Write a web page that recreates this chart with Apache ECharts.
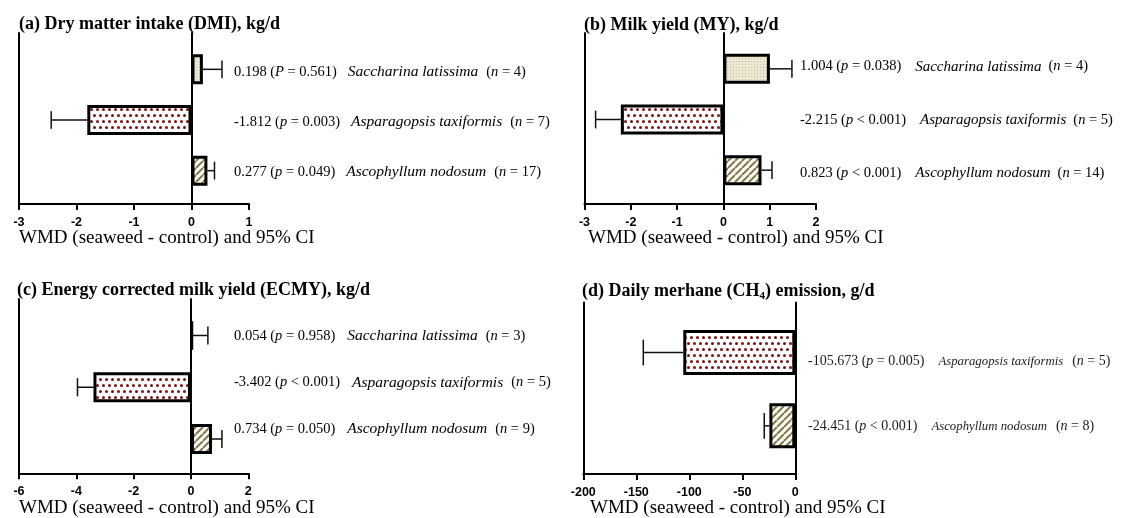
<!DOCTYPE html>
<html>
<head>
<meta charset="utf-8">
<script src="https://cdn.jsdelivr.net/npm/echarts@6/dist/echarts.min.js"></script>
<style>
  html, body { margin: 0; padding: 0; background: #fff; }
  #chart { width: 1126px; height: 518px; }
</style>
</head>
<body>
<div id="chart"></div>
<script>
// species per panel
const speciesThree = ['Saccharina latissima', 'Asparagopsis taxiformis', 'Ascophyllum nodosum'];
const speciesCh4 = ['Asparagopsis taxiformis', 'Ascophyllum nodosum'];

// (a) DMI, kg/d
const dmiWmd = [0.198, -1.812, 0.277];
const dmiCi = [0.53, -2.44, 0.40];
const dmiPSym = ['P', 'p', 'p'];
const dmiP = ['= 0.561', '= 0.003', '= 0.049'];
const dmiN = [4, 7, 17];
const dmiTicks = [-3, 1, 1];

// (b) MY, kg/d
const myWmd = [1.004, -2.215, 0.823];
const myCi = [1.48, -2.76, 1.05];
const myPSym = ['p', 'p', 'p'];
const myP = ['= 0.038', '< 0.001', '< 0.001'];
const myN = [4, 5, 14];
const myTicks = [-3, 2, 1];

// (c) ECMY, kg/d
const ecmyWmd = [0.054, -3.402, 0.734];
const ecmyCi = [0.59, -3.96, 1.08];
const ecmyPSym = ['p', 'p', 'p'];
const ecmyP = ['= 0.958', '< 0.001', '= 0.050'];
const ecmyN = [3, 5, 9];
const ecmyTicks = [-6, 2, 2];

// (d) CH4, g/d
const ch4Wmd = [-105.673, -24.451];
const ch4Ci = [-143.4, -29.3];
const ch4PSym = ['p', 'p'];
const ch4P = ['= 0.005', '< 0.001'];
const ch4N = [5, 8];
const ch4Ticks = [-200, 0, 50];

const axisTitle = 'WMD (seaweed - control) and 95% CI';

function makePattern(kind) {
  const c = document.createElement('canvas');
  const ctx = c.getContext('2d');
  if (kind === 'dots') {
    c.width = 6; c.height = 12;
    ctx.fillStyle = '#fff';
    ctx.fillRect(0, 0, 6, 12);
    ctx.fillStyle = '#7a1212';
    [[1.5, 1.5], [4.5, 7.5]].forEach(([x, y]) => {
      ctx.beginPath();
      ctx.arc(x, y, 1.5, 0, Math.PI * 2);
      ctx.fill();
    });
  } else if (kind === 'stripes') {
    c.width = 7; c.height = 7;
    ctx.fillStyle = '#fff';
    ctx.fillRect(0, 0, 7, 7);
    ctx.strokeStyle = '#877a48';
    ctx.lineWidth = 2.1;
    ctx.beginPath();
    for (let k = -7; k <= 7; k += 7) {
      ctx.moveTo(k, 7);
      ctx.lineTo(k + 7, 0);
    }
    ctx.stroke();
  } else {
    c.width = 3; c.height = 3;
    ctx.fillStyle = '#ebe7d3';
    ctx.fillRect(0, 0, 3, 3);
    ctx.fillStyle = '#c9c3a6';
    ctx.fillRect(1, 1, 1, 1);
  }
  return { image: c, repeat: 'repeat' };
}

const fills = {
  'Saccharina latissima': makePattern('plain'),
  'Asparagopsis taxiformis': makePattern('dots'),
  'Ascophyllum nodosum': makePattern('stripes')
};

const panels = [
  {
    title: '{b|(a) Dry matter intake (DMI), kg/d}', titlePos: [19, 13], namePos: [19, 227],
    species: speciesThree, wmd: dmiWmd, ci: dmiCi, pSym: dmiPSym, p: dmiP, n: dmiN, ticks: dmiTicks,
    frame: { left: 19, top: 33, width: 230, height: 171 },
    bars: { top: 44, height: 152 }, barWidth: 30,
    labels: { x: 234, top: 46.7, height: 150 }, fs: 14.5, sfs: 15.5, gap1: 11, gap2: 8
  },
  {
    title: '{b|(b) Milk yield (MY), kg/d}', titlePos: [584, 14], namePos: [588, 227],
    species: speciesThree, wmd: myWmd, ci: myCi, pSym: myPSym, p: myP, n: myN, ticks: myTicks,
    frame: { left: 584.5, top: 33, width: 231.5, height: 171 },
    bars: { top: 43.5, height: 152 }, barWidth: 30,
    labels: { x: 800, top: 40, height: 160 }, fs: 14.5, sfs: 15, gap1: 14, gap2: 7
  },
  {
    title: '{b|(c) Energy corrected milk yield (ECMY), kg/d}', titlePos: [17, 279], namePos: [19, 497],
    species: speciesThree, wmd: ecmyWmd, ci: ecmyCi, pSym: ecmyPSym, p: ecmyP, n: ecmyN, ticks: ecmyTicks,
    frame: { left: 19, top: 299, width: 229.3, height: 174.3 },
    bars: { top: 309.6, height: 155.3 }, barWidth: 30,
    labels: { x: 234, top: 312.8, height: 139.5 }, fs: 14.5, sfs: 15.5, gap1: 12, gap2: 8
  },
  {
    title: '{b|(d) Daily merhane (CH}{sub|4}{b|) emission, g/d}', titlePos: [582, 280], namePos: [590, 497],
    species: speciesCh4, wmd: ch4Wmd, ci: ch4Ci, pSym: ch4PSym, p: ch4P, n: ch4N, ticks: ch4Ticks,
    frame: { left: 583.3, top: 302.5, width: 212, height: 171.5 },
    bars: { top: 315.9, height: 146.6 }, barWidth: 45,
    labels: { x: 808, top: 329.2, height: 130 }, fs: 14, sfs: 12.8, gap1: 14, gap2: 9
  }
];

const serif = 'Liberation Serif';
const grids = [], xAxes = [], yAxes = [], series = [], titles = [];

panels.forEach((pn) => {
  // frame grid: visible axes
  const fg = grids.length;
  grids.push(Object.assign({ outerBoundsMode: 'none' }, pn.frame));
  xAxes.push({
    gridIndex: fg, type: 'value', min: pn.ticks[0], max: pn.ticks[1], interval: pn.ticks[2],
    axisLine: { show: true, onZero: false, lineStyle: { color: '#000', width: 2 } },
    axisTick: { show: true, length: 6, lineStyle: { color: '#000', width: 2 } },
    axisLabel: {
      margin: 12, showMinLabel: true, showMaxLabel: true,
      fontFamily: 'Liberation Sans', fontWeight: 'bold', fontSize: 12.5, color: '#000'
    },
    splitLine: { show: false }
  });
  yAxes.push({
    gridIndex: fg, type: 'value', min: 0, max: 1, position: 'left',
    axisLine: { show: true, onZero: true, lineStyle: { color: '#000', width: 2 } },
    axisTick: { show: false }, axisLabel: { show: false }, splitLine: { show: false }
  });
  yAxes.push({
    gridIndex: fg, type: 'value', min: 0, max: 1, position: 'left',
    axisLine: { show: true, onZero: false, lineStyle: { color: '#000', width: 2 } },
    axisTick: { show: false }, axisLabel: { show: false }, splitLine: { show: false }
  });

  // bar grid
  const bg = grids.length;
  grids.push({ outerBoundsMode: 'none', left: pn.frame.left, width: pn.frame.width, top: pn.bars.top, height: pn.bars.height });
  xAxes.push({ gridIndex: bg, type: 'value', min: pn.ticks[0], max: pn.ticks[1], show: false });
  const bx = xAxes.length - 1;
  yAxes.push({ gridIndex: bg, type: 'category', data: pn.species, inverse: true, show: false });
  const by = yAxes.length - 1;

  series.push({
    type: 'bar', xAxisIndex: bx, yAxisIndex: by, barWidth: pn.barWidth, z: 3,
    data: pn.wmd.map((v, i) => ({
      value: v,
      itemStyle: { color: fills[pn.species[i]], borderColor: '#000', borderWidth: 3 }
    })),
    emphasis: { disabled: true }, animation: false
  });

  series.push({
    type: 'custom', xAxisIndex: bx, yAxisIndex: by, z: 2,
    data: pn.wmd.map((v, i) => [i, v, pn.ci[i]]),
    encode: { x: [1, 2], y: 0 },
    renderItem: (params, api) => {
      const s = api.coord([api.value(1), api.value(0)]);
      const e = api.coord([api.value(2), api.value(0)]);
      const half = api.size([0, 1])[1] * 0.175;
      const st = { stroke: '#111', lineWidth: 1.5 };
      return {
        type: 'group',
        children: [
          { type: 'line', shape: { x1: s[0], y1: s[1], x2: e[0], y2: e[1] }, style: st },
          { type: 'line', shape: { x1: e[0], y1: e[1] - half, x2: e[0], y2: e[1] + half }, style: st }
        ]
      };
    },
    animation: false
  });

  // label grid: text column right of each panel
  const lg = grids.length;
  grids.push({ outerBoundsMode: 'none', left: pn.labels.x - 10, width: 10, top: pn.labels.top, height: pn.labels.height });
  xAxes.push({ gridIndex: lg, type: 'value', min: 0, max: 1, show: false });
  const txtColor = pn.species.length === 2 ? '#1c1c1c' : '#000';
  yAxes.push({
    gridIndex: lg, type: 'category', data: pn.species, inverse: true, position: 'right',
    axisLine: { show: false }, axisTick: { show: false }, splitLine: { show: false },
    axisLabel: {
      margin: 0, interval: 0,
      formatter: (val, i) =>
        '{r|' + pn.wmd[i].toFixed(3) + ' (}{i|' + pn.pSym[i] + '}{r| ' + pn.p[i] + ')}' +
        '{s|' + val + '}{r|(}{i|n}{r| = ' + pn.n[i] + ')}',
      rich: {
        r: { fontFamily: serif, fontSize: pn.fs, color: txtColor },
        i: { fontFamily: serif, fontSize: pn.fs, fontStyle: 'italic', color: txtColor },
        s: { fontFamily: serif, fontSize: pn.sfs, fontStyle: 'italic', color: txtColor, padding: [0, pn.gap2, 0, pn.gap1] }
      }
    }
  });

  titles.push({
    text: pn.title, left: pn.titlePos[0], top: pn.titlePos[1], padding: 0,
    textStyle: {
      rich: {
        b: { fontFamily: serif, fontWeight: 'bold', fontSize: 18, color: '#000', lineHeight: 22 },
        sub: { fontFamily: serif, fontWeight: 'bold', fontSize: 11, color: '#000', lineHeight: 11, verticalAlign: 'bottom' }
      }
    }
  });
  titles.push({
    text: axisTitle, left: pn.namePos[0], top: pn.namePos[1], padding: 0,
    textStyle: { fontFamily: serif, fontWeight: 'normal', fontSize: 19, color: '#000', lineHeight: 22 }
  });
});

const chart = echarts.init(document.getElementById('chart'), null, { renderer: 'canvas' });
chart.setOption({
  backgroundColor: '#fff',
  animation: false,
  title: titles,
  grid: grids,
  xAxis: xAxes,
  yAxis: yAxes,
  series: series
});
</script>
</body>
</html>
